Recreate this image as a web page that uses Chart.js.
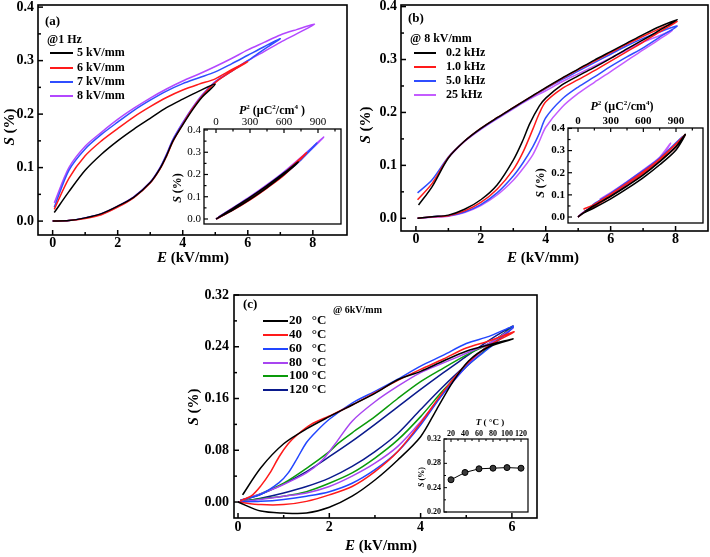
<!DOCTYPE html>
<html><head><meta charset="utf-8">
<script src="https://cdn.jsdelivr.net/npm/chart.js@4/dist/chart.umd.min.js"></script>
<style>
html,body{margin:0;padding:0;background:#fff;}
#wrap{position:relative;width:710px;height:557px;overflow:hidden;background:#fff;}
canvas{position:absolute;left:0;top:0;}
</style></head><body><div id="wrap">
<canvas id="cA" width="710" height="557"></canvas>
<canvas id="cAi" width="710" height="557"></canvas>
<canvas id="cB" width="710" height="557"></canvas>
<canvas id="cBi" width="710" height="557"></canvas>
<canvas id="cC" width="710" height="557"></canvas>
<canvas id="cCi" width="710" height="557"></canvas>
</div>
<script>
// ================= DATA =================
// Panel (a): S-E loops at 1 Hz
const aLabels = ['5 kV/mm', '6 kV/mm', '7 kV/mm', '8 kV/mm'];
const a5E = [0,0.5,1,1.5,2,2.5,3,3.3,3.5,3.7,4,4.3,4.6,5.0, 4.5,4.0,3.5,3.0,2.5,2.0,1.5,1.0,0.5,0.05];
const a5S = [0,0.001,0.006,0.014,0.028,0.045,0.072,0.098,0.122,0.15,0.18,0.208,0.232,0.256, 0.243,0.228,0.212,0.192,0.172,0.15,0.125,0.095,0.055,0.016];
const a6E = [0,0.5,1,1.5,2,2.5,3,3.3,3.5,3.7,4,4.3,4.6,5,5.5,6, 5.5,5,4.5,4,3.5,3,2.5,2,1.5,1,0.5,0.05];
const a6S = [0,0.001,0.005,0.012,0.026,0.044,0.071,0.097,0.121,0.149,0.181,0.21,0.234,0.259,0.28,0.298, 0.283,0.266,0.256,0.245,0.231,0.214,0.195,0.173,0.15,0.122,0.08,0.022];
const a7E = [0,0.5,1,1.5,2,2.5,3,3.3,3.5,3.7,4,4.3,4.6,5,5.5,6,6.5,7, 6.5,6,5.5,5,4.5,4,3.5,3,2.5,2,1.5,1,0.5,0.05];
const a7S = [0,0.001,0.006,0.013,0.027,0.045,0.072,0.099,0.124,0.152,0.183,0.211,0.235,0.26,0.28,0.3,0.321,0.341, 0.326,0.31,0.294,0.279,0.268,0.257,0.243,0.226,0.207,0.185,0.162,0.135,0.095,0.026];
const a8E = [0,0.5,1,1.5,2,2.5,3,3.3,3.5,3.7,4,4.3,4.6,5,5.5,6,6.5,7,7.5,8.05, 7.5,7,6.5,6,5.5,5,4.5,4,3.5,3,2.5,2,1.5,1,0.5,0.05];
const a8S = [0,0.001,0.006,0.014,0.028,0.046,0.073,0.1,0.125,0.153,0.184,0.212,0.236,0.261,0.281,0.3,0.317,0.334,0.35,0.368, 0.358,0.348,0.334,0.32,0.304,0.289,0.275,0.262,0.247,0.23,0.211,0.19,0.166,0.14,0.1,0.034];
// Inset (a): S vs P^2
const iaP5 = [0,150,300,450,600,725, 600,450,300,150,20];
const iaS5 = [0,0.041,0.088,0.141,0.2,0.256, 0.207,0.15,0.097,0.048,0.006];
const iaP6 = [0,150,300,450,600,800, 600,450,300,150,20];
const iaS6 = [0,0.040,0.086,0.139,0.197,0.298, 0.205,0.148,0.095,0.047,0.006];
const iaP7 = [0,150,300,450,600,750,890, 750,600,450,300,150,20];
const iaS7 = [0,0.042,0.09,0.143,0.201,0.266,0.341, 0.272,0.208,0.15,0.097,0.049,0.007];
const iaP8 = [0,150,300,450,600,750,950, 750,600,450,300,150,20];
const iaS8 = [0,0.043,0.092,0.146,0.205,0.27,0.368, 0.277,0.212,0.154,0.1,0.051,0.008];

// Panel (b): S-E loops at 8 kV/mm, different frequencies
const bLabels = ['0.2 kHz', '1.0 kHz', '5.0 kHz', '25 kHz'];
const b02E = [0.05,0.5,1,1.5,2,2.5,3,3.3,3.5,3.8,4,4.5,5,5.5,6,6.5,7,7.5,8.05, 7.5,7,6.5,6,5.5,5,4.5,4,3.5,3,2.5,2,1.5,1,0.5,0.08];
const b02S = [0,0.003,0.006,0.017,0.035,0.063,0.11,0.148,0.178,0.212,0.227,0.252,0.269,0.285,0.302,0.32,0.337,0.355,0.375, 0.362,0.347,0.331,0.315,0.299,0.282,0.265,0.247,0.228,0.209,0.19,0.17,0.146,0.114,0.06,0.025];
const b1E = [0.05,0.5,1,1.5,2,2.5,3,3.3,3.6,3.8,4,4.5,5,5.5,6,6.5,7,7.5,8.05, 7.5,7,6.5,6,5.5,5,4.5,4,3.5,3,2.5,2,1.5,1,0.5,0.05];
const b1S = [0,0.003,0.005,0.014,0.03,0.055,0.092,0.125,0.168,0.198,0.22,0.245,0.262,0.279,0.297,0.315,0.333,0.352,0.372, 0.358,0.344,0.329,0.313,0.297,0.281,0.264,0.246,0.228,0.209,0.19,0.17,0.146,0.115,0.066,0.035];
const b5E = [0.05,0.5,1,1.5,2,2.5,3,3.3,3.6,3.8,4,4.5,5,5.5,6,6.5,7,7.5,8.05, 7.5,7,6.5,6,5.5,5,4.5,4,3.5,3,2.5,2,1.5,1,0.5,0.05];
const b5S = [0,0.003,0.005,0.012,0.026,0.048,0.08,0.105,0.135,0.16,0.19,0.225,0.248,0.267,0.287,0.305,0.322,0.342,0.363, 0.352,0.34,0.326,0.31,0.294,0.278,0.262,0.245,0.227,0.208,0.189,0.169,0.146,0.116,0.073,0.048];
const b25E = [0.05,0.5,1,1.5,2,2.5,3,3.3,3.6,3.8,4,4.5,5,5.5,6,6.5,7,7.5,7.9, 7.5,7,6.5,6,5.5,5,4.5,4,3.5,3,2.5,2,1.5,1.05,0.98];
const b25S = [0,0.002,0.004,0.011,0.024,0.044,0.072,0.094,0.12,0.145,0.172,0.21,0.236,0.257,0.277,0.298,0.318,0.338,0.355, 0.345,0.333,0.318,0.303,0.288,0.273,0.258,0.241,0.225,0.207,0.188,0.168,0.145,0.118,0.114];
// Inset (b)
const ibP02 = [0,50,150,300,450,600,750,900,985, 900,750,600,450,300,150,60];
const ibS02 = [0,0.018,0.042,0.082,0.128,0.178,0.236,0.303,0.373, 0.318,0.25,0.19,0.14,0.094,0.052,0.025];
const ibP1 = [0,50,150,300,450,600,750,900,985, 900,750,600,450,300,150,50];
const ibS1 = [0,0.02,0.047,0.094,0.143,0.196,0.253,0.317,0.372, 0.33,0.262,0.205,0.153,0.103,0.057,0.035];
const ibP5 = [0,50,150,300,450,600,750,960, 750,600,450,300,150,120];
const ibS5 = [0,0.021,0.05,0.098,0.148,0.2,0.257,0.363, 0.266,0.21,0.158,0.107,0.06,0.048];
const ibP25 = [0,50,150,300,450,600,750,850, 750,600,450,300,200];
const ibS25 = [0,0.022,0.053,0.102,0.153,0.206,0.262,0.333, 0.27,0.213,0.16,0.11,0.08];

// Panel (c): S-E loops at 6 kV/mm, different temperatures
const cLabels = ['20   \u00B0C', '40   \u00B0C', '60   \u00B0C', '80   \u00B0C', '100 \u00B0C', '120 \u00B0C'];
const c20E = [0,0.5,1,1.5,2,2.5,3,3.5,4,4.35,4.7,5.05,5.5,6.03, 5.5,5,4.5,4,3.5,3,2.5,2,1.5,1,0.5,0.1];
const c20S = [0,-0.014,-0.017,-0.017,-0.008,0.009,0.034,0.065,0.101,0.143,0.185,0.218,0.24,0.252, 0.243,0.233,0.218,0.202,0.189,0.168,0.15,0.132,0.113,0.09,0.053,0.011];
const c40E = [0,0.5,1,1.5,2,2.5,3,3.5,4,4.5,5,5.5,6.05, 5.5,5,4.5,4,3.5,3,2.5,2,1.6,1.3,1.1,0.9,0.7,0.5,0.3,0.05];
const c40S = [0,-0.004,-0.004,0.001,0.011,0.024,0.047,0.078,0.122,0.171,0.213,0.242,0.263, 0.249,0.238,0.221,0.205,0.188,0.169,0.15,0.133,0.12,0.104,0.09,0.07,0.045,0.025,0.01,0.002];
const c60E = [0,0.5,1,1.5,2,2.5,3,3.5,4,4.5,5,5.5,6.03, 5.5,5,4.5,4,3.5,3,2.5,2,1.7,1.5,1.3,1.1,0.9,0.5,0.05];
const c60S = [0,0.001,0.004,0.009,0.016,0.029,0.05,0.078,0.119,0.168,0.209,0.238,0.271, 0.256,0.245,0.227,0.21,0.19,0.171,0.153,0.128,0.108,0.092,0.068,0.045,0.03,0.012,0.003];
const c80E = [0,0.5,1,1.5,2,2.5,3,3.5,4,4.5,5,5.5,6.03, 5.5,5,4.5,4,3.5,3,2.5,2.14,1.85,1.5,0.9,0.5,0.05];
const c80S = [0,0.004,0.009,0.014,0.024,0.04,0.06,0.086,0.124,0.168,0.209,0.243,0.269, 0.245,0.23,0.215,0.2,0.179,0.155,0.125,0.091,0.065,0.045,0.024,0.013,0.002];
const c100E = [0,0.5,1,1.5,2,2.5,3,3.5,4,4.5,5,5.5,6.03, 5.5,5,4.5,4,3.5,3,2.5,2.2,2,1.5,1,0.5,0.05];
const c100S = [0,0.005,0.009,0.016,0.029,0.045,0.068,0.096,0.132,0.173,0.209,0.24,0.27, 0.245,0.227,0.207,0.186,0.16,0.132,0.107,0.091,0.078,0.052,0.029,0.013,0.002];
const c120E = [0,0.5,1,1.5,2,2.5,3,3.5,4,4.5,5,5.5,6.03, 5.5,5,4.5,4,3.5,3,2.5,2,1.5,1,0.5,0.05];
const c120S = [0,0.006,0.014,0.024,0.037,0.055,0.078,0.106,0.143,0.179,0.212,0.243,0.272, 0.25,0.225,0.2,0.174,0.147,0.12,0.094,0.07,0.047,0.028,0.012,0.002];
// Inset (c): S max vs temperature
const icT = [20, 40, 60, 80, 100, 120];
const icS = [0.253, 0.265, 0.271, 0.272, 0.273, 0.272];

// Tick values
const aXTicks = [0,2,4,6,8], aYTicks = [0,0.1,0.2,0.3,0.4];
const iaXTicks = [0,300,600,900], iaYTicks = [0,0.1,0.2,0.3,0.4];
const cXTicks = [0,2,4,6], cYTicks = [0,0.08,0.16,0.24,0.32];
const icXTicks = [20,40,60,80,100,120], icYTicks = [0.20,0.24,0.28,0.32];

// ================= RENDERING =================
const W = 710, H = 557;
const FF = "'Liberation Serif','Times New Roman',serif";
Chart.defaults.font.family = FF;
Chart.defaults.color = '#000';
const f = (s, st) => (st || 'bold') + ' ' + s + 'px ' + FF;
const zip = (xs, ys) => xs.map((x, i) => ({x: x, y: ys[i]}));
const DECO = {};

function rich(ctx, parts, x, y, align, rot) {
  ctx.save();
  ctx.translate(x, y);
  if (rot) ctx.rotate(rot * Math.PI / 180);
  const ws = parts.map(p => { ctx.font = p[1]; return ctx.measureText(p[0]).width; });
  const tot = ws.reduce((a, b) => a + b, 0);
  let cx = align === 'center' ? -tot / 2 : (align === 'right' ? -tot : 0);
  ctx.textBaseline = 'middle'; ctx.textAlign = 'left'; ctx.fillStyle = '#000';
  parts.forEach((p, i) => { ctx.font = p[1]; ctx.fillText(p[0], cx, p[2] || 0); cx += ws[i]; });
  ctx.restore();
}

const decoPlugin = {
  id: 'deco',
  afterDraw(chart) {
    const d = DECO[chart.canvas.id]; if (!d) return;
    const ctx = chart.ctx, ca = chart.chartArea;
    const xs = chart.scales.x, ys = chart.scales.y;
    ctx.save();
    ctx.strokeStyle = '#000'; ctx.lineWidth = d.frame;
    ctx.strokeRect(ca.left, ca.top, ca.right - ca.left, ca.bottom - ca.top);
    ctx.lineWidth = d.tw;
    const xt = (v, len) => {
      const p = xs.getPixelForValue(v);
      ctx.beginPath();
      if (d.xEdge === 'top') { ctx.moveTo(p, ca.top); ctx.lineTo(p, ca.top + len); }
      else { ctx.moveTo(p, ca.bottom); ctx.lineTo(p, ca.bottom - len); }
      ctx.stroke();
    };
    const yt = (v, len) => {
      const p = ys.getPixelForValue(v);
      ctx.beginPath(); ctx.moveTo(ca.left, p); ctx.lineTo(ca.left + len, p); ctx.stroke();
    };
    d.xMaj.forEach(v => xt(v, d.len)); d.xMin.forEach(v => xt(v, d.mlen));
    d.yMaj.forEach(v => yt(v, d.len)); d.yMin.forEach(v => yt(v, d.mlen));
    (d.texts || []).forEach(t => rich(ctx, t.p, t.x, t.y, t.a, t.r));
    if (d.legend) {
      const L = d.legend;
      chart.data.datasets.forEach((ds, i) => {
        const y = L.rows[i];
        ctx.strokeStyle = ds.borderColor; ctx.lineWidth = 2;
        ctx.beginPath(); ctx.moveTo(L.x1, y); ctx.lineTo(L.x2, y); ctx.stroke();
        rich(ctx, [[ds.label, L.font]], L.tx, y, 'left', 0);
      });
    }
    ctx.restore();
  }
};

function mk(id, o) {
  DECO[id] = o.deco;
  const xH = 20;
  const top = o.xPos === 'top';
  return new Chart(document.getElementById(id), {
    type: 'scatter',
    data: {datasets: o.datasets},
    options: {
      responsive: false, animation: false, devicePixelRatio: 1, events: [],
      layout: {padding: {left: 0, right: W - o.area.r,
        top: top ? o.area.t - xH : o.area.t,
        bottom: top ? H - o.area.b : H - o.area.b - xH}},
      plugins: {legend: {display: false}, tooltip: {enabled: false}},
      elements: {line: {tension: o.tension}, point: {radius: 0}},
      scales: {
        x: {type: 'linear', position: o.xPos, min: o.x.min, max: o.x.max,
          grid: {display: false, drawTicks: false}, border: {display: false},
          afterBuildTicks: s => { s.ticks = o.x.ticks.map(v => ({value: v})); },
          afterFit: s => { s.height = xH; s.paddingLeft = 0; s.paddingRight = 0; s.paddingTop = 0; s.paddingBottom = 0; },
          ticks: {autoSkip: false, maxRotation: 0, minRotation: 0, padding: o.x.pad, color: '#000',
            font: o.x.font, callback: o.x.fmt}},
        y: {type: 'linear', position: 'left', min: o.y.min, max: o.y.max,
          grid: {display: false, drawTicks: false}, border: {display: false},
          afterBuildTicks: s => { s.ticks = o.y.ticks.map(v => ({value: v})); },
          afterFit: s => { s.width = o.area.l; s.paddingLeft = 0; s.paddingRight = 0; s.paddingTop = 0; s.paddingBottom = 0; },
          ticks: {autoSkip: false, padding: o.y.pad, color: '#000', font: o.y.font, callback: o.y.fmt}}
      }
    },
    plugins: [decoPlugin]
  });
}

const line = (lab, xs, ys, col, w) => ({label: lab, data: zip(xs, ys), showLine: true,
  borderColor: col, backgroundColor: col, borderWidth: w || 1.5, pointRadius: 0, fill: false});

const RED = '#ff1a1a', BLUE = '#2f4dff', PURP = '#b347ff';
const tickFontMain = {size: 14, weight: 'bold', lineHeight: 1};

// ---------- Panel (a)
mk('cA', {
  area: {l: 38, t: 5, r: 347, b: 235}, xPos: 'bottom', tension: 0.3,
  x: {min: -0.45, max: 9.05, ticks: aXTicks, pad: 1, font: tickFontMain, fmt: v => String(v)},
  y: {min: -0.026, max: 0.404, ticks: aYTicks, pad: 4, font: tickFontMain, fmt: v => v.toFixed(1)},
  datasets: [line(aLabels[0], a5E, a5S, '#000'), line(aLabels[1], a6E, a6S, RED),
             line(aLabels[2], a7E, a7S, BLUE), line(aLabels[3], a8E, a8S, PURP)],
  deco: {frame: 1.6, tw: 1.5, xEdge: 'bottom', len: 5, mlen: 3,
    xMaj: aXTicks, xMin: [1,3,5,7], yMaj: aYTicks, yMin: [0.05,0.15,0.25,0.35],
    texts: [
      {p: [['(a)', f(13)]], x: 45, y: 22, a: 'left'},
      {p: [['@1 Hz', f(12)]], x: 47, y: 40, a: 'left'},
      {p: [['S', f(15, 'italic bold')], [' (%)', f(15)]], x: 10, y: 127, a: 'center', r: -90},
      {p: [['E', f(15, 'italic bold')], [' (kV/mm)', f(15)]], x: 193, y: 258, a: 'center'}
    ],
    legend: {x1: 50, x2: 73, tx: 77, rows: [53, 68, 82, 96], font: f(12)}}
});

// ---------- Inset (a)
mk('cAi', {
  area: {l: 204, t: 129, r: 341, b: 224}, xPos: 'top', tension: 0.3,
  x: {min: -106, max: 1103, ticks: iaXTicks, pad: 1, font: {size: 11, lineHeight: 1}, fmt: v => String(v)},
  y: {min: -0.0225, max: 0.4045, ticks: iaYTicks, pad: 3, font: {size: 11}, fmt: v => v.toFixed(1)},
  datasets: [line(aLabels[0], iaP5, iaS5, '#000', 1.6), line(aLabels[1], iaP6, iaS6, RED, 1.6),
             line(aLabels[2], iaP7, iaS7, BLUE, 1.6), line(aLabels[3], iaP8, iaS8, PURP, 1.6)],
  deco: {frame: 1.3, tw: 1.2, xEdge: 'top', len: 4, mlen: 2.5,
    xMaj: iaXTicks, xMin: [150,450,750,1050], yMaj: iaYTicks, yMin: [0.05,0.15,0.25,0.35],
    texts: [
      {p: [['P', f(12, 'italic bold')], ['2', f(7), -4], [' (\u03BCC', f(12)], ['2', f(7), -4], ['/cm', f(12)], ['4', f(7), -4], [' )', f(12)]], x: 272, y: 111, a: 'center'},
      {p: [['S', f(12, 'italic bold')], [' (%)', f(12)]], x: 178, y: 188, a: 'center', r: -90}
    ]}
});

// ---------- Panel (b)
mk('cB', {
  area: {l: 401, t: 5, r: 708, b: 231}, xPos: 'bottom', tension: 0.3,
  x: {min: -0.46, max: 9.0, ticks: aXTicks, pad: 1, font: tickFontMain, fmt: v => String(v)},
  y: {min: -0.024, max: 0.403, ticks: aYTicks, pad: 4, font: tickFontMain, fmt: v => v.toFixed(1)},
  datasets: [line(bLabels[0], b02E, b02S, '#000'), line(bLabels[1], b1E, b1S, RED),
             line(bLabels[2], b5E, b5S, BLUE), line(bLabels[3], b25E, b25S, '#c45cff')],
  deco: {frame: 1.6, tw: 1.5, xEdge: 'bottom', len: 5, mlen: 3,
    xMaj: aXTicks, xMin: [1,3,5,7], yMaj: aYTicks, yMin: [0.05,0.15,0.25,0.35],
    texts: [
      {p: [['(b)', f(13)]], x: 408, y: 19, a: 'left'},
      {p: [['@ 8 kV/mm', f(12)]], x: 410, y: 39, a: 'left'},
      {p: [['S', f(15, 'italic bold')], [' (%)', f(15)]], x: 366, y: 125, a: 'center', r: -90},
      {p: [['E', f(15, 'italic bold')], [' (kV/mm)', f(15)]], x: 543, y: 258, a: 'center'}
    ],
    legend: {x1: 414, x2: 436, tx: 446, rows: [53, 67, 81, 95], font: f(12)}}
});

// ---------- Inset (b)
mk('cBi', {
  area: {l: 568, t: 128, r: 703, b: 223}, xPos: 'top', tension: 0.3,
  x: {min: -92, max: 1148, ticks: iaXTicks, pad: 1, font: {size: 11, weight: 'bold', lineHeight: 1}, fmt: v => String(v)},
  y: {min: -0.027, max: 0.402, ticks: iaYTicks, pad: 3, font: {size: 11, weight: 'bold'}, fmt: v => v.toFixed(1)},
  datasets: [line(bLabels[0], ibP02, ibS02, '#000', 1.6), line(bLabels[1], ibP1, ibS1, RED, 1.6),
             line(bLabels[2], ibP5, ibS5, BLUE, 1.6), line(bLabels[3], ibP25, ibS25, '#c45cff', 1.6)],
  deco: {frame: 1.3, tw: 1.2, xEdge: 'top', len: 4, mlen: 2.5,
    xMaj: iaXTicks, xMin: [150,450,750,1050], yMaj: iaYTicks, yMin: [0.05,0.15,0.25,0.35],
    texts: [
      {p: [['P', f(12, 'italic bold')], ['2', f(7), -4], [' (\u03BCC', f(12)], ['2', f(7), -4], ['/cm', f(12)], ['4', f(7), -4], [')', f(12)]], x: 622, y: 107, a: 'center'},
      {p: [['S', f(12, 'italic bold')], [' (%)', f(12)]], x: 541, y: 183, a: 'center', r: -90}
    ]}
});

// ---------- Panel (c)
mk('cC', {
  area: {l: 234, t: 295, r: 537, b: 518}, xPos: 'bottom', tension: 0.3,
  x: {min: -0.088, max: 6.55, ticks: cXTicks, pad: 2, font: tickFontMain, fmt: v => String(v)},
  y: {min: -0.0247, max: 0.32, ticks: cYTicks, pad: 5, font: tickFontMain, fmt: v => v.toFixed(2)},
  datasets: [line(cLabels[0], c20E, c20S, '#000'), line(cLabels[1], c40E, c40S, RED),
             line(cLabels[2], c60E, c60S, '#2246ff'), line(cLabels[3], c80E, c80S, '#a845f0'),
             line(cLabels[4], c100E, c100S, '#0a9a0a'), line(cLabels[5], c120E, c120S, '#0a1a8c')],
  deco: {frame: 1.6, tw: 1.5, xEdge: 'bottom', len: 5, mlen: 3,
    xMaj: cXTicks, xMin: [1,3,5], yMaj: cYTicks, yMin: [0.04,0.12,0.2,0.28],
    texts: [
      {p: [['(c)', f(13)]], x: 243, y: 305, a: 'left'},
      {p: [['@ 6kV/mm', f(10)]], x: 333, y: 310, a: 'left'},
      {p: [['S', f(15, 'italic bold')], [' (%)', f(15)]], x: 194, y: 407, a: 'center', r: -90},
      {p: [['E', f(15, 'italic bold')], [' (kV/mm)', f(15)]], x: 381, y: 546, a: 'center'}
    ],
    legend: {x1: 263, x2: 288, tx: 289, rows: [321, 335, 349, 363, 376, 390], font: f(13)}}
});

// ---------- Inset (c)
mk('cCi', {
  area: {l: 444, t: 439, r: 528, b: 512}, xPos: 'top', tension: 0,
  x: {min: 10, max: 130, ticks: icXTicks, pad: 1, font: {size: 8, weight: 'bold', lineHeight: 1}, fmt: v => String(v)},
  y: {min: 0.2, max: 0.32, ticks: icYTicks, pad: 3, font: {size: 8, weight: 'bold'}, fmt: v => v.toFixed(2)},
  datasets: [{label: 'S', data: zip(icT, icS), showLine: true, borderColor: '#000', borderWidth: 1,
    pointRadius: 3, pointBackgroundColor: '#3a3a3a', pointBorderColor: '#000', pointBorderWidth: 1}],
  deco: {frame: 1.2, tw: 1, xEdge: 'top', len: 3, mlen: 2,
    xMaj: icXTicks, xMin: [30,50,70,90,110], yMaj: icYTicks, yMin: [0.22,0.26,0.30],
    texts: [
      {p: [['T', f(9, 'italic bold')], [' ( \u00B0C )', f(9)]], x: 490, y: 423, a: 'center'},
      {p: [['S', f(8, 'italic bold')], [' (%)', f(8)]], x: 422, y: 477, a: 'center', r: -90}
    ]}
});
</script>
</body></html>
